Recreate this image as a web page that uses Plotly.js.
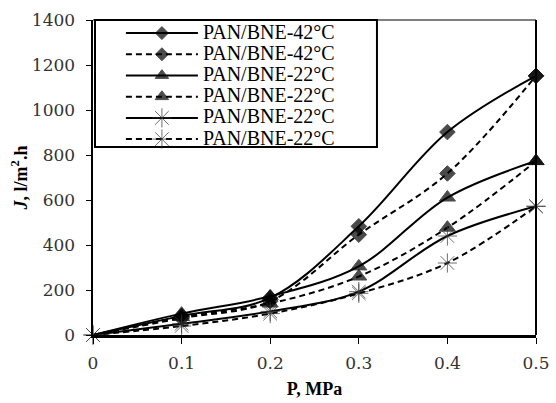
<!DOCTYPE html>
<html>
<head>
<meta charset="utf-8">
<script src="https://cdn.plot.ly/plotly-3.0.1.min.js"></script>
<style>html,body{margin:0;padding:0;background:#fff;}#chart{width:556px;height:403px;}</style>
</head>
<body>
<div id="chart"></div>
<script>
// Pressure (MPa)
var pressure = [0, 0.1, 0.2, 0.3, 0.4, 0.5];
// Series names
var seriesNames = ["PAN/BNE-42°C", "PAN/BNE-42°C", "PAN/BNE-22°C", "PAN/BNE-22°C", "PAN/BNE-22°C", "PAN/BNE-22°C"];
// Flux values J (l/m2.h)
var diamondSolid  = [0, 85, 165, 483, 902, 1152];
var diamondDashed = [0, 75, 150, 446, 718, 1152];
var triangleSolid = [0, 95, 172, 305, 611, 773];
var triangleDashed= [0, 80, 140, 260, 477, 773];
var starSolid     = [0, 50, 105, 193, 440, 572];
var starDashed    = [0, 40, 95, 185, 320, 572];
// Axis ticks
var xTicks = [0, 0.1, 0.2, 0.3, 0.4, 0.5];
var xTickLabels = ["0", "0.1", "0.2", "0.3", "0.4", "0.5"];
var yTicks = [0, 200, 400, 600, 800, 1000, 1200, 1400];

var seriesValues = [diamondSolid, diamondDashed, triangleSolid, triangleDashed, starSolid, starDashed];
var symbols = ["diamond", "diamond", "triangle-up", "triangle-up", "asterisk-open", "asterisk-open"];
var dashes = ["solid", "6px,4px", "solid", "6px,4px", "solid", "6px,4px"];

var traces = seriesValues.map(function (vals, i) {
  var isStar = symbols[i] === "asterisk-open";
  var baseSize = isStar ? 16 : (symbols[i] === "diamond" ? 12 : 14);
  var sizes = vals.map(function (v, k) { return (k === 0 && !isStar) ? 0 : baseSize; });
  return {
    type: "scatter",
    mode: "lines+markers",
    x: pressure,
    y: vals,
    name: '<span style="font-size:20px">' + seriesNames[i] + '</span>',
    line: {color: "#000", width: 2, dash: dashes[i], shape: "spline", smoothing: 1},
    marker: {
      symbol: symbols[i],
      size: sizes,
      color: isStar ? "#333" : "#000",
      line: {color: isStar ? "#333" : "#000", width: 1}
    },
    cliponaxis: false
  };
});

var layout = {
  width: 556,
  height: 403,
  margin: {l: 93, r: 20, t: 20, b: 68},
  paper_bgcolor: "#fff",
  plot_bgcolor: "#fff",
  showlegend: true,
  legend: {
    x: 0.063, y: 1.008, xanchor: "left", yanchor: "top",
    bgcolor: "rgba(0,0,0,0)", borderwidth: 0,
    font: {family: "Liberation Serif, Times New Roman, serif", size: 14, color: "#000"},
    itemwidth: 72,
    tracegroupgap: 0
  },
  xaxis: {
    range: [0, 0.5],
    tickvals: xTicks,
    ticktext: xTickLabels,
    showgrid: false,
    zeroline: false,
    showline: true,
    linecolor: "#000",
    linewidth: 3,
    ticks: "outside",
    ticklen: 6,
    tickwidth: 1,
    tickcolor: "#000",
    ticklabelstandoff: 5,
    tickfont: {family: "DejaVu Serif, serif", size: 17, color: "#333"},
    title: {text: "<b>P, MPa</b>", font: {family: "Liberation Serif, Times New Roman, serif", size: 18, color: "#000"}, standoff: 10}
  },
  yaxis: {
    range: [0, 1400],
    tickvals: yTicks,
    showgrid: false,
    zeroline: false,
    showline: true,
    linecolor: "#000",
    linewidth: 2.5,
    ticks: "outside",
    ticklen: 5,
    tickwidth: 1,
    tickcolor: "#000",
    ticklabelstandoff: 7,
    tickfont: {family: "DejaVu Serif, serif", size: 17, color: "#333"},
    title: {text: "<b><i>J</i>, l/m<sup>2</sup>.h</b>", font: {family: "Liberation Serif, Times New Roman, serif", size: 18, color: "#000"}, standoff: 0}
  },
  shapes: [
    {type: "line", xref: "paper", yref: "paper", x0: 1, x1: 1, y0: 0, y1: 1, line: {color: "#000", width: 2}},
    {type: "line", xref: "paper", yref: "paper", x0: 0, x1: 1, y0: 1, y1: 1, line: {color: "#000", width: 1}},
    {type: "rect", xref: "paper", yref: "paper", x0: 0.0045, x1: 0.641, y0: 0.597, y1: 1, layer: "below",
     fillcolor: "#fff", line: {color: "#000", width: 2}}
  ]
};

Plotly.newPlot("chart", traces, layout, {displayModeBar: false, staticPlot: true});
</script>
</body>
</html>
